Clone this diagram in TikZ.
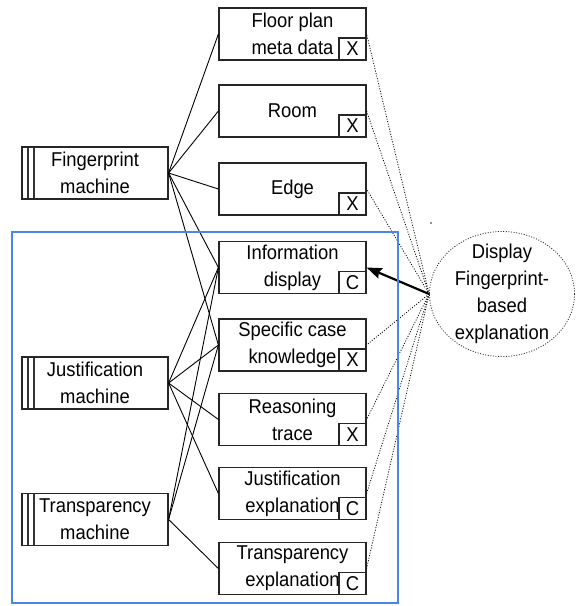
\documentclass[tikz,border=0pt]{standalone}
\usepackage{fontspec}
\setmainfont{Liberation Sans}[FakeStretch=0.92]
\usepackage{xcolor}
\usetikzlibrary{shapes.geometric}
\usetikzlibrary{arrows.meta}
\definecolor{zoneblue}{RGB}{74,134,232}

\begin{document}
\begin{tikzpicture}[x=1pt, y=-1pt,
		box/.style={draw=black!85, line width=1.2pt, minimum width=147pt, minimum height=52pt, inner sep=0pt, align=center, font=\fontsize{20}{27}\selectfont},
		machine/.style={box, minimum width=146pt, path picture={
			\draw[line width=1.1pt, black!80] ([xshift=6pt]path picture bounding box.north west) -- ([xshift=6pt]path picture bounding box.south west);
			\draw[line width=1.1pt, black!80] ([xshift=12pt]path picture bounding box.north west) -- ([xshift=12pt]path picture bounding box.south west);
		}},
		tag/.style={draw=black!85, line width=1.2pt, minimum width=27pt, minimum height=22pt, inner sep=0pt, anchor=south east, font=\fontsize{20}{27}\selectfont},
		link/.style={line width=0.9pt},
		hint/.style={line width=0.8pt, dash pattern=on 1pt off 1.6pt}
	]
		\useasboundingbox (0,0) rectangle (576,606);

		% machines on the left
		\node[machine] (fingerprint) at (95,173) {Fingerprint\\machine};
		\node[machine] (justification) at (95,383) {Justification\\machine};
		\node[machine] (transparency) at (95,519.5) {Transparency\\machine};

		% information items
		\node[box] (floorplan) at (292.5,34) {Floor plan\\meta data};
		\node[box] (room) at (292.5,111) {Room};
		\node[box] (edge) at (292.5,189) {Edge};
		\node[box] (info) at (292.5,267.5) {Information\\display};
		\node[box] (casek) at (292.5,345) {Specific case\\knowledge};
		\node[box] (trace) at (292.5,419.5) {Reasoning\\trace};
		\node[box] (justexpl) at (292.5,493.5) {Justification\\explanation};
		\node[box] (transexpl) at (292.5,568.5) {Transparency\\explanation};

		\node[tag] (floorplan-x) at (floorplan.south east) {X};
		\node[tag] (room-x) at (room.south east) {X};
		\node[tag] (edge-x) at (edge.south east) {X};
		\node[tag] (info-c) at (info.south east) {C};
		\node[tag] (casek-x) at (casek.south east) {X};
		\node[tag] (trace-x) at (trace.south east) {X};
		\node[tag] (justexpl-c) at (justexpl.south east) {C};
		\node[tag] (transexpl-c) at (transexpl.south east) {C};

		% use case
		\node[ellipse, draw=black!85, hint, minimum width=145pt, minimum height=125pt, inner sep=0pt] (display) at (502,294) {};
		\node[align=center, inner sep=0pt, font=\fontsize{20}{27}\selectfont] (display-text) at (display.center) {Display\\Fingerprint-\\based\\explanation};
		\fill[black!85] (431,223) circle (0.8pt);

		\foreach \t in {floorplan, room, edge, info, casek}
			\draw[link] (fingerprint.east) -- (\t.west);
		\foreach \t in {info, casek, trace, justexpl}
			\draw[link] (justification.east) -- (\t.west);
		\foreach \t in {info, casek, transexpl}
			\draw[link] (transparency.east) -- (\t.west);

		\foreach \t in {floorplan, room, edge, casek, trace, justexpl, transexpl}
			\draw[hint] (display.west) -- (\t.east);
		\draw[-{Stealth[length=15pt, width=11pt, inset=2pt]}, line width=2.2pt] (display.west) -- (info.east);

		% explanation zone
		\draw[zoneblue, line width=1.3pt] (12,232) rectangle (398,603);

	\end{tikzpicture}
\end{document}
